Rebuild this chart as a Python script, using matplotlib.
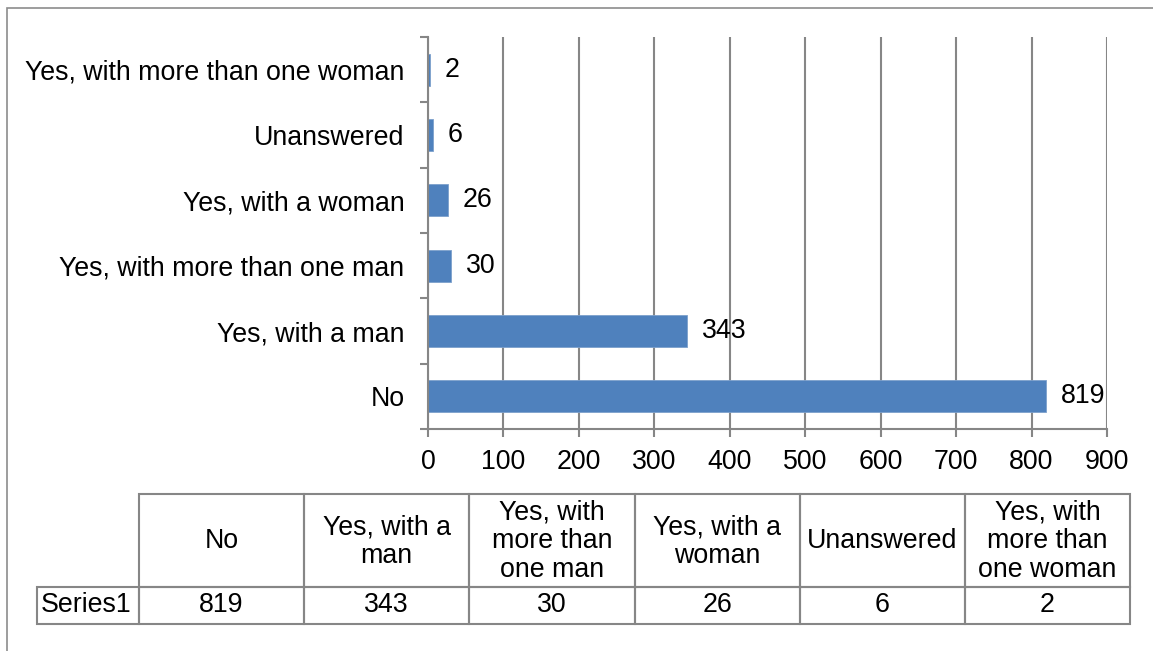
import matplotlib
matplotlib.use("Agg")
import matplotlib.pyplot as plt
from matplotlib.patches import Rectangle
import numpy as np

plt.rcParams['font.family'] = ['Liberation Sans', 'DejaVu Sans']

# Responses (bottom-to-top in the bar chart, left-to-right in the table)
categories = ["No", "Yes, with a man", "Yes, with more than one man",
              "Yes, with a woman", "Unanswered", "Yes, with more than one woman"]
values = [819, 343, 30, 26, 6, 2]
table_headers = ["No", "Yes, with a\nman", "Yes, with\nmore than\none man",
                 "Yes, with a\nwoman", "Unanswered", "Yes, with\nmore than\none woman"]
series_name = "Series1"
x_ticks = [0, 100, 200, 300, 400, 500, 600, 700, 800, 900]

W, H = 1153, 651
FS = 19.3
BAR = "#4F81BD"
GRID = "#868686"

fig = plt.figure(figsize=(W / 100, H / 100), dpi=100)

# outer chart frame (left and top edges visible)
fig.add_artist(Rectangle((7 / W, -0.5), 2.0, 1.5 - 8 / H, transform=fig.transFigure,
                         fill=False, edgecolor="#8c8c8c", linewidth=1.2))

ax = fig.add_axes([428 / W, 1 - 429 / H, (1107 - 428) / W, (429 - 37) / H])
y = np.arange(len(categories))
ax.barh(y, values, height=0.49, color=BAR, edgecolor="#7da0cc", linewidth=0.6, zorder=3)

for yi, v in zip(y, values):
    ax.annotate(str(v), (v, yi), xytext=(11, 0), textcoords="offset points",
                va="center", ha="left", fontsize=FS, zorder=4)

ax.set_xlim(0, 900)
ax.set_ylim(-0.5, len(categories) - 0.5)
ax.set_xticks(x_ticks)
ax.set_xticklabels([str(t) for t in x_ticks], fontsize=FS)
ax.set_yticks(y)
ax.set_yticklabels(categories, fontsize=FS)
ax.set_yticks(np.arange(-0.5, len(categories)), minor=True)

ax.tick_params(axis="y", which="major", length=0, pad=17)
ax.tick_params(axis="y", which="minor", length=5.5, width=1.5, color=GRID, direction="out")
ax.tick_params(axis="x", which="major", length=5.5, width=1.5, color=GRID, direction="out", pad=9)

ax.grid(axis="x", color=GRID, linewidth=1.5, zorder=0)
for side in ("top", "right"):
    ax.spines[side].set_visible(False)
for side in ("left", "bottom"):
    ax.spines[side].set_color(GRID)
    ax.spines[side].set_linewidth(1.5)
    ax.spines[side].set_zorder(5)

# data table below the chart, laid out in pixel units of its own axes
label_w, col_w = 102, (1130 - 139) / 6
head_h, row_h = 93, 37
tw = label_w + col_w * len(values)
th = head_h + row_h
tax = fig.add_axes([37 / W, 1 - 624 / H, tw / W, th / H])
tax.set_xlim(0, tw)
tax.set_ylim(th, 0)
tax.axis("off")

cell_kw = dict(fill=False, edgecolor=GRID, linewidth=1.5, clip_on=False)
tax.add_patch(Rectangle((0, head_h), label_w, row_h, **cell_kw))
tax.text(4, head_h + row_h / 2, series_name, ha="left", va="center", fontsize=FS)
for i, (hdr, v) in enumerate(zip(table_headers, values)):
    x0 = label_w + i * col_w
    tax.add_patch(Rectangle((x0, 0), col_w, head_h, **cell_kw))
    tax.add_patch(Rectangle((x0, head_h), col_w, row_h, **cell_kw))
    tax.text(x0 + col_w / 2, head_h / 2 + 1, hdr, ha="center", va="center",
             fontsize=FS, linespacing=1.13, multialignment="center")
    tax.text(x0 + col_w / 2, head_h + row_h / 2, str(v), ha="center", va="center",
             fontsize=FS)

fig.savefig("out.png", dpi=100, facecolor="white")
